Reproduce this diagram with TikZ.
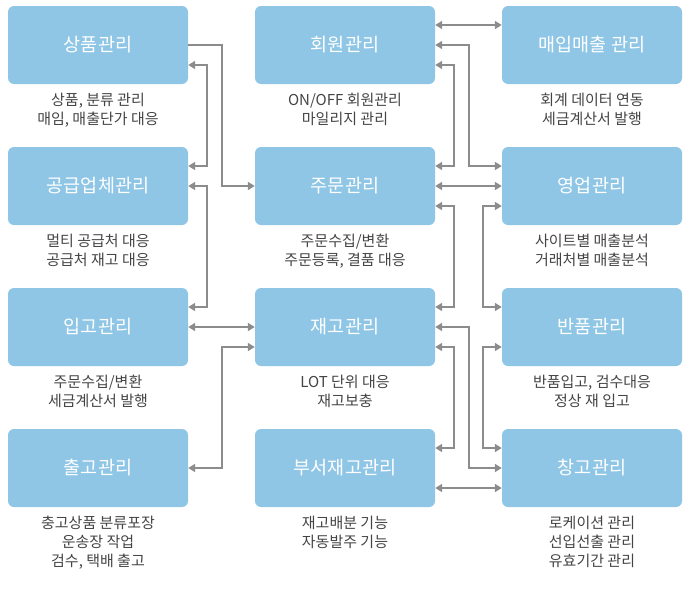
\documentclass[tikz,border=0pt]{standalone}
\usepackage{fontspec}
\setmainfont{Noto Sans CJK KR}
\usepackage{tikz}
\definecolor{erpblue}{RGB}{143,198,230}
\definecolor{erpgray}{RGB}{140,140,140}
\definecolor{erptext}{RGB}{68,68,68}
\usetikzlibrary{arrows.meta,positioning,calc}

\begin{document}
\begin{tikzpicture}[x=1pt,y=-1pt,
  modbox/.style={fill=erpblue,rounded corners=6pt,minimum width=180pt,minimum height=78pt,
                 inner sep=0pt,text=white,font=\fontsize{18.5}{22}\selectfont},
  desc/.style={below=9pt of #1,inner sep=0pt,align=center,text=erptext,
               font=\fontsize{15}{19}\selectfont},
  link/.style={draw=erpgray,line width=2pt,{Triangle[length=7pt,width=8pt]}-{Triangle[length=7pt,width=8pt]}},
  onelink/.style={draw=erpgray,line width=2pt,-{Triangle[length=7pt,width=8pt]}}]
  \useasboundingbox (0,0) rectangle (690,608);

  %% Left column
  \node[modbox] (sangpum)  at (98,45)  {상품관리};
  \node[modbox] (gonggeup) at (98,186) {공급업체관리};
  \node[modbox] (ipgo)     at (98,327) {입고관리};
  \node[modbox] (chulgo)   at (98,468) {출고관리};
  \node[desc=sangpum]  (sangpumtxt)  {상품, 분류 관리\\매임, 매출단가 대응};
  \node[desc=gonggeup] (gonggeuptxt) {멀티 공급처 대응\\공급처 재고 대응};
  \node[desc=ipgo]     (ipgotxt)     {주문수집/변환\\세금계산서 발행};
  \node[desc=chulgo]   (chulgotxt)   {충고상품 분류포장\\운송장 작업\\검수, 택배 출고};

  %% Middle column
  \node[modbox] (hoewon) at (345,45)  {회원관리};
  \node[modbox] (jumun)  at (345,186) {주문관리};
  \node[modbox] (jaego)  at (345,327) {재고관리};
  \node[modbox] (buseo)  at (345,468) {부서재고관리};
  \node[desc=hoewon] (hoewontxt) {ON/OFF 회원관리\\마일리지 관리};
  \node[desc=jumun]  (jumuntxt)  {주문수집/변환\\주문등록, 결품 대응};
  \node[desc=jaego]  (jaegotxt)  {LOT 단위 대응\\재고보충};
  \node[desc=buseo]  (buseotxt)  {재고배분 기능\\자동발주 기능};

  %% Right column
  \node[modbox] (maeip)    at (592,45)  {매입매출 관리};
  \node[modbox] (yeongeop) at (592,186) {영업관리};
  \node[modbox] (banpum)   at (592,327) {반품관리};
  \node[modbox] (changgo)  at (592,468) {창고관리};
  \node[desc=maeip]    (maeiptxt)    {회계 데이터 연동\\세금계산서 발행};
  \node[desc=yeongeop] (yeongeoptxt) {사이트별 매출분석\\거래처별 매출분석};
  \node[desc=banpum]   (banpumtxt)   {반품입고, 검수대응\\정상 재 입고};
  \node[desc=changgo]  (changgotxt)  {로케이션 관리\\선입선출 관리\\유효기간 관리};

  %% Links between left and middle column
  \draw[onelink] (sangpum.east) -- ++(34,0) |- (jumun.west);
  \draw[link] ([yshift=-20pt]sangpum.east) -- ++(19,0) |- ([yshift=20pt]gonggeup.east);
  \draw[link] (gonggeup.east) -- ++(19,0) |- ([yshift=20pt]ipgo.east);
  \draw[link] (ipgo.east) -- (jaego.west);
  \draw[link] ([yshift=-20pt]jaego.west) -- ++(-33,0) |- (chulgo.east);

  %% Links between middle and right column
  \draw[link] ([yshift=20pt]hoewon.east) -- ([yshift=20pt]maeip.west);
  \draw[link] (hoewon.east) -- ++(34,0) |- ([yshift=20pt]yeongeop.west);
  \draw[link] ([yshift=-20pt]hoewon.east) -- ++(19,0) |- ([yshift=20pt]jumun.east);
  \draw[link] (jumun.east) -- (yeongeop.west);
  \draw[link] ([yshift=-20pt]jumun.east) -- ++(19,0) |- ([yshift=20pt]jaego.east);
  \draw[link] ([yshift=-20pt]yeongeop.west) -- ++(-19,0) |- ([yshift=20pt]banpum.west);
  \draw[link] (jaego.east) -- ++(34,0) |- (changgo.west);
  \draw[link] ([yshift=-20pt]jaego.east) -- ++(19,0) |- ([yshift=20pt]buseo.east);
  \draw[link] ([yshift=-20pt]banpum.west) -- ++(-19,0) |- ([yshift=20pt]changgo.west);
  \draw[link] ([yshift=-20pt]buseo.east) -- ([yshift=-20pt]changgo.west);
\end{tikzpicture}
\end{document}
